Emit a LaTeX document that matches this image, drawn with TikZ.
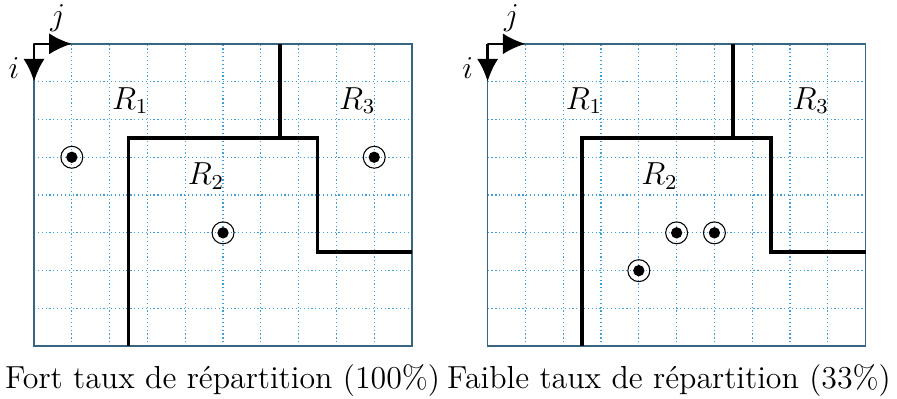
\documentclass[tikz,border=0pt]{standalone}
\usepackage{amsmath}
\usetikzlibrary{positioning,arrows.meta}

\definecolor{gridblue}{rgb}{0.25,0.62,0.85}
\definecolor{framecol}{rgb}{0.22,0.40,0.50}

\begin{document}
\begin{tikzpicture}[x=5mm, y=-5mm, >={Latex[length=3mm, width=2.8mm]},
  every node/.style={font=\fontsize{12}{14.4}\selectfont},
  gridline/.style={gridblue, densely dotted, line width=0.45pt},
  frame/.style={framecol, line width=0.6pt},
  border/.style={line width=1.4pt},
  axis/.style={->, line width=1pt},
  pt/.style={circle, draw, thin, minimum size=2.9mm, inner sep=0pt,
    path picture={\fill (path picture bounding box.center) circle (0.75mm);}}]

\useasboundingbox (-0.9,-1.16) rectangle (22.83,9.37);

% left grid
\draw[gridline, step=5mm] (0,0) grid (10,8);
\draw[frame] (0,0) rectangle (10,8);
\coordinate (o) at (0,0);
\coordinate (ei) at (0,1);
\coordinate (ej) at (1,0);
\draw[axis] (o) -- (ei);
\draw[axis] (o) -- (ej);
\node (i) at (-0.53,0.63) {$i$};
\node (j) at (0.63,-0.68) {$j$};

\draw[border] (6.5,0) -- (6.5,2.5);
\draw[border] (2.5,8) -- (2.5,2.5) -- (7.5,2.5) -- (7.5,5.5) -- (10,5.5);

\node (r1) at (2.55,1.5) {$R_1$};
\node (r2) at (4.55,3.5) {$R_2$};
\node (r3) at (8.55,1.5) {$R_3$};

\node[pt] (a) at (1,3) {};
\node[pt] (b) at (9,3) {};
\node[pt] (c) at (5,5) {};

\node (capl) at (4.99,8.9) {Fort taux de répartition (100\%)};

% right grid
\begin{scope}[xshift=60mm]
\draw[gridline, step=5mm] (0,0) grid (10,8);
\draw[frame] (0,0) rectangle (10,8);
\coordinate (o') at (0,0);
\coordinate (ei') at (0,1);
\coordinate (ej') at (1,0);
\draw[axis] (o') -- (ei');
\draw[axis] (o') -- (ej');
\node (i') at (-0.53,0.63) {$i$};
\node (j') at (0.63,-0.68) {$j$};

\draw[border] (6.5,0) -- (6.5,2.5);
\draw[border] (2.5,8) -- (2.5,2.5) -- (7.5,2.5) -- (7.5,5.5) -- (10,5.5);

\node (r1') at (2.55,1.5) {$R_1$};
\node (r2') at (4.55,3.5) {$R_2$};
\node (r3') at (8.55,1.5) {$R_3$};

\node[pt] (d) at (5,5) {};
\node[pt] (e) at (6,5) {};
\node[pt] (f) at (4,6) {};

\node (capr) at (4.8,8.9) {Faible taux de répartition (33\%)};
\end{scope}
\end{tikzpicture}
\end{document}
